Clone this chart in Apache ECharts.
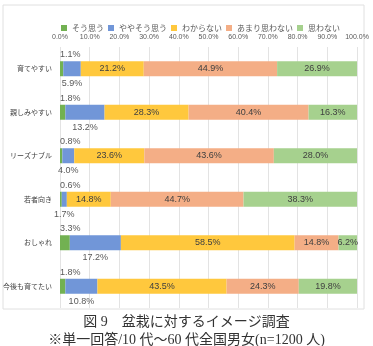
<!DOCTYPE html>
<html>
<head>
<meta charset="utf-8">
<script src="https://cdn.jsdelivr.net/npm/echarts@6/dist/echarts.min.js"></script>
<style>
  html, body { margin: 0; padding: 0; background: #fff; }
  #chart { width: 373px; height: 346px; }
</style>
</head>
<body>
<div id="chart"></div>
<script>
// data
const categories = ['育てやすい', '親しみやすい', 'リーズナブル', '若者向き', 'おしゃれ', '今後も育てたい']
const seriesNames = ['そう思う', 'ややそう思う', 'わからない', 'あまり思わない', '思わない']
const soOmou = [1.1, 1.8, 0.8, 0.6, 3.3, 1.8]
const yayaSoOmou = [5.9, 13.2, 4.0, 1.7, 17.2, 10.8]
const wakaranai = [21.2, 28.3, 23.6, 14.8, 58.5, 43.5]
const amariOmowanai = [44.9, 40.4, 43.6, 44.7, 14.8, 24.3]
const omowanai = [26.9, 16.3, 28.0, 38.3, 6.2, 19.8]
const colors = ['#72b152', '#7196d8', '#ffc83d', '#f4ae86', '#a6d18e']

const pct = (p) => p.value.toFixed(1) + '%'

const insideLabel = {
  show: true,
  color: '#404040',
  fontSize: 9,
  fontFamily: 'Liberation Sans, sans-serif',
  formatter: pct
}

const option = {
  animation: false,
  color: colors,
  legend: {
    top: 19,
    left: 56,
    itemWidth: 6,
    itemHeight: 6,
    itemGap: 4,
    icon: 'rect',
    textStyle: { fontSize: 8, color: '#595959', fontFamily: 'Noto Sans CJK JP' },
    data: seriesNames
  },
  grid: { left: 57, right: 16, top: 47, bottom: 38 },
  xAxis: {
    type: 'value',
    position: 'top',
    min: 0,
    max: 100,
    interval: 10,
    axisLine: { show: false },
    axisTick: { show: false },
    axisLabel: {
      fontSize: 7,
      color: '#595959',
      margin: 6,
      fontFamily: 'Liberation Sans, sans-serif',
      formatter: (v) => v.toFixed(1) + '%'
    },
    splitLine: { lineStyle: { color: '#e3e3e3', width: 1 } }
  },
  yAxis: {
    type: 'category',
    inverse: true,
    data: categories,
    axisLine: { show: false },
    axisTick: { show: false },
    axisLabel: { fontSize: 7, color: '#404040', margin: 8, fontFamily: 'Noto Sans CJK JP' }
  },
  series: [
    {
      name: seriesNames[0], type: 'bar', stack: 'all', barWidth: 15, data: soOmou,
      label: {
        show: true, position: [0, -2], align: 'left', verticalAlign: 'bottom',
        color: '#595959', fontSize: 9, fontFamily: 'Liberation Sans, sans-serif', formatter: pct
      }
    },
    {
      name: seriesNames[1], type: 'bar', stack: 'all', barWidth: 15, data: yayaSoOmou,
      label: {
        show: true, position: 'bottom', distance: 3,
        color: '#595959', fontSize: 9, fontFamily: 'Liberation Sans, sans-serif', formatter: pct
      }
    },
    { name: seriesNames[2], type: 'bar', stack: 'all', barWidth: 15, data: wakaranai, label: insideLabel },
    { name: seriesNames[3], type: 'bar', stack: 'all', barWidth: 15, data: amariOmowanai, label: insideLabel },
    { name: seriesNames[4], type: 'bar', stack: 'all', barWidth: 15, data: omowanai, label: insideLabel }
  ],
  graphic: [
    {
      type: 'rect',
      shape: { x: 3, y: 5, width: 361, height: 304 },
      style: { fill: 'none', stroke: '#e0e0e0', lineWidth: 1 },
      silent: true
    },
    {
      type: 'text', left: 'center', top: 315,
      style: { text: '図 9　盆栽に対するイメージ調査', fontSize: 14, fill: '#333', fontFamily: 'Liberation Serif, Noto Sans CJK JP' }
    },
    {
      type: 'text', left: 'center', top: 333,
      style: { text: '※単一回答/10 代～60 代全国男女(n=1200 人)', fontSize: 14, fill: '#333', fontFamily: 'Liberation Serif, Noto Sans CJK JP' }
    }
  ]
}

const myChart = echarts.init(document.getElementById('chart'))
myChart.setOption(option)
</script>
</body>
</html>
